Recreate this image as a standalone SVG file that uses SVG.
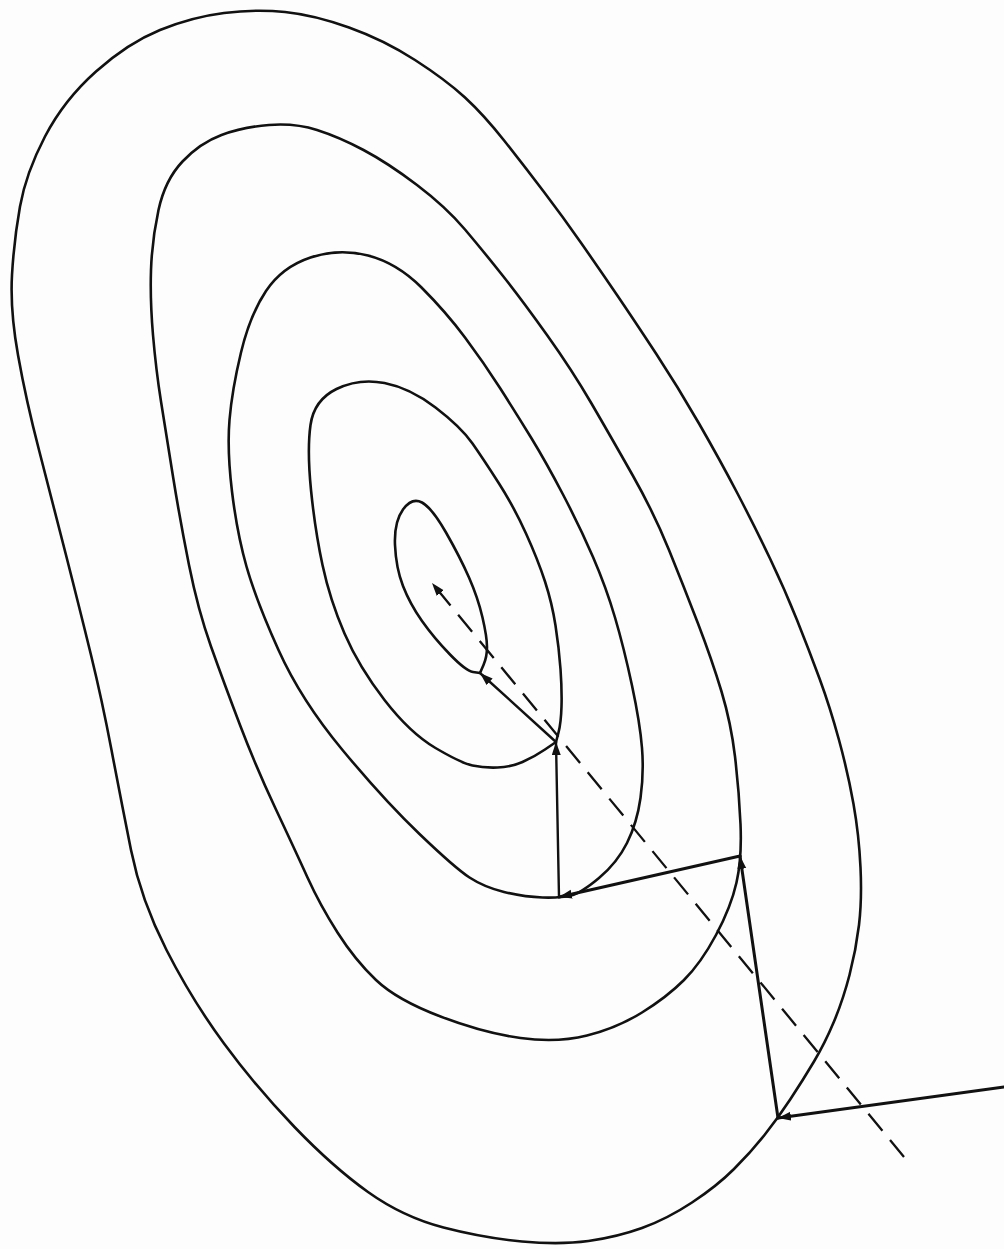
<svg xmlns="http://www.w3.org/2000/svg" width="1004" height="1249" viewBox="0 0 1004 1249">
<style>
.contour{fill:none;stroke:#111;stroke-width:2.6;stroke-linejoin:round}
.step{fill:none;stroke:#111;stroke-width:3;stroke-linecap:round;marker-end:url(#ah)}
.thin{stroke-width:2.4}
.dash{fill:none;stroke:#111;stroke-width:2.3;stroke-dasharray:22 12;marker-end:url(#ah)}
</style>
<defs>
<marker id="ah" markerUnits="userSpaceOnUse" markerWidth="16" markerHeight="10" refX="13" refY="4.5" orient="auto">
<path d="M0,0 L13,4.5 L0,9 Z" fill="#111"/>
</marker>
</defs>
<rect width="1004" height="1249" fill="#fdfdfd"/>
<g id="contour-1"><path class="contour" d="M 224,13 Q 256,9 285,12 Q 314,15 349,27.5 Q 384,40 415,60 Q 446,80 465,97.5 Q 484,115 504.5,141 Q 525,167 544,192 Q 563,217 581.5,243.5 Q 600,270 617,295 Q 634,320 656,353.5 Q 678,387 699,423.5 Q 720,460 737.5,493.5 Q 755,527 770,558.5 Q 785,590 797,620 Q 809,650 819.5,678.5 Q 830,707 839,740 Q 848,773 853.5,804 Q 859,835 860.5,867.5 Q 862,900 859,925 Q 856,950 849.5,975 Q 843,1000 834,1021.5 Q 825,1043 814,1061.5 Q 803,1080 790.5,1099 Q 778,1118 764.5,1135 Q 751,1152 734,1169 Q 717,1186 692,1202.5 Q 667,1219 642,1228 Q 617,1237 588.5,1241 Q 560,1245 522,1241.5 Q 484,1238 443.5,1227.5 Q 403,1217 368,1192 Q 333,1167 294.5,1127 Q 256,1087 224,1043.5 Q 192,1000 166.5,950 Q 141,900 131,850 Q 121,800 111.5,750 Q 102,700 91,655 Q 80,610 66,555 Q 52,500 39,450 Q 26,400 18,355 Q 10,310 12,275 Q 14,240 20,206.5 Q 26,173 45,136.5 Q 64,100 96,71.5 Q 128,43 160,30 Q 192,17 224,13 Z"/></g>
<g id="contour-2"><path class="contour" d="M 269,125 Q 295,123 317,130 Q 339,137 363.5,150 Q 388,163 417,185 Q 446,207 465,229.5 Q 484,252 503,276 Q 522,300 547,335 Q 572,370 591.5,403.5 Q 611,437 632.5,475 Q 654,513 669,550 Q 684,587 698,623.5 Q 712,660 721.5,691.5 Q 731,723 735,756.5 Q 739,790 740.5,824 Q 742,858 736.5,882.5 Q 731,907 716,935 Q 701,963 684,980 Q 667,997 642,1012.5 Q 617,1028 587,1035.5 Q 557,1043 520.5,1038 Q 484,1033 440.5,1016.5 Q 397,1000 376,980 Q 355,960 337.5,932.5 Q 320,905 307.5,877.5 Q 295,850 275.5,808.5 Q 256,767 240,725 Q 224,683 211,646.5 Q 198,610 189,565 Q 180,520 173,476.5 Q 166,433 161,401.5 Q 156,370 153,335 Q 150,300 151,270 Q 152,240 158.5,210 Q 165,180 182.5,161.5 Q 200,143 221.5,135 Q 243,127 269,125 Z"/></g>
<g id="contour-3"><path class="contour" d="M 310.5,257.5 Q 339,248 368,255.5 Q 397,263 421.5,287.5 Q 446,312 465,337.5 Q 484,363 500,388 Q 516,413 531,437.5 Q 546,462 563,494.5 Q 580,527 593,557 Q 606,587 615,617.5 Q 624,648 632,685.5 Q 640,723 642,748 Q 644,773 640.5,798 Q 637,823 627,843 Q 617,863 599,878 Q 581,893 571,895.5 Q 561,898 542.5,897.5 Q 524,897 504,892 Q 484,887 469.5,877.5 Q 455,868 419.5,834 Q 384,800 342.5,750 Q 301,700 278.5,650 Q 256,600 246.5,566.5 Q 237,533 232,491.5 Q 227,450 229.5,420 Q 232,390 241,352.5 Q 250,315 266,291 Q 282,267 310.5,257.5 Z"/></g>
<g id="contour-4"><path class="contour" d="M 336.5,389 Q 359,378 384.5,383 Q 410,388 435.5,407.5 Q 461,427 472.5,443.5 Q 484,460 499,483.5 Q 514,507 526,533.5 Q 538,560 545,581.5 Q 552,603 555.5,625.5 Q 559,648 560.5,669 Q 562,690 561.5,706.5 Q 561,723 558.5,732.5 L 556,742 L 545,749.5 Q 534,757 522.5,762 Q 511,767 497.5,767.5 Q 484,768 472.5,765.5 Q 461,763 435.5,748 Q 410,733 384.5,700 Q 359,667 344.5,633.5 Q 330,600 322.5,565 Q 315,530 311,490 Q 307,450 310.5,425 Q 314,400 336.5,389 Z"/></g>
<g id="contour-5"><path class="contour" d="M 403,509.5 Q 412,497 422,502.5 Q 432,508 446,532.5 Q 460,557 469,577.5 Q 478,598 482.5,617.5 Q 487,637 487,647 Q 487,657 483.5,665 L 480,673 L 473,672 Q 466,671 450,654.5 Q 434,638 422,621 Q 410,604 403,586 Q 396,568 395,545 Q 394,522 403,509.5 Z"/></g>
<g id="connectors">
<line class="dash" x1="904" y1="1157" x2="432" y2="583"/>
<line class="step" x1="1004" y1="1087" x2="778" y2="1118"/>
<line class="step" x1="778" y1="1118" x2="740" y2="856"/>
<line class="step" x1="740" y1="856" x2="559" y2="897"/>
<line class="step thin" x1="559" y1="897" x2="556" y2="742"/>
<line class="step thin" x1="556" y1="742" x2="480" y2="673"/>
</g>
</svg>
